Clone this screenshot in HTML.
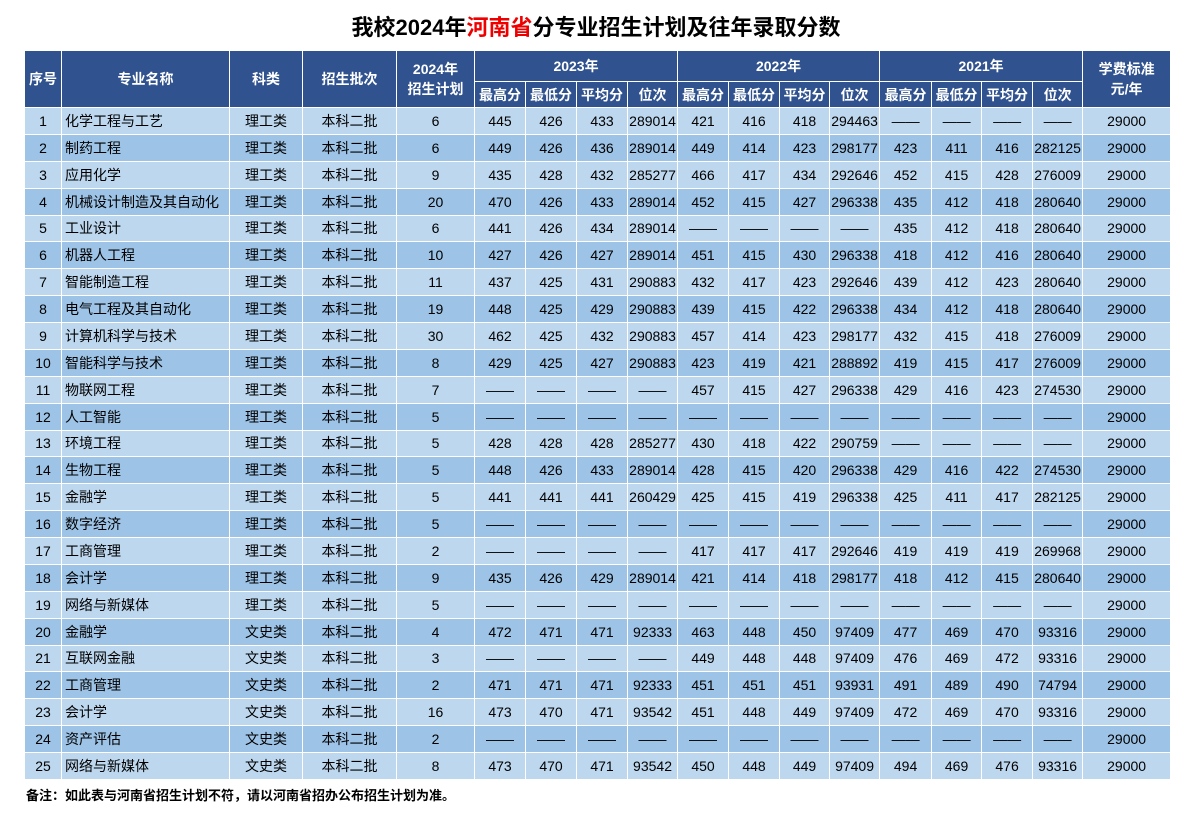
<!DOCTYPE html>
<html><head><meta charset="utf-8"><style>
body{margin:0;width:1192px;height:817px;background:#fff;position:relative;font-family:"Liberation Sans","Noto Sans CJK SC",sans-serif;}
.t{position:absolute;top:12px;left:0;width:1192px;text-align:center;font-size:22px;font-weight:bold;color:#000;line-height:32px}
.t span{color:#e00}
table{position:absolute;left:24px;top:50px;width:1146px;border-collapse:collapse;table-layout:fixed;font-size:14px;color:#000}
td,th{border:1px solid #fff;text-align:center;padding:0;white-space:nowrap;overflow:hidden}
th{background:#30528f;color:#fff;font-weight:bold;font-size:14px;line-height:16px}
th.tw{line-height:20px}
tr.h1 th{height:30px}
tr.h2 th{height:25px}
tbody tr{height:26.88px}
tbody tr:nth-child(odd) td{background:#bdd7ee}
tbody tr:nth-child(even) td{background:#9dc3e6}
td.n{text-align:left;padding-left:3px}
.f{position:absolute;left:26px;top:785px;font-size:13px;font-weight:bold}
</style></head><body>
<div class="t">我校2024年<span>河南省</span>分专业招生计划及往年录取分数</div>
<table>
<colgroup><col style="width:37px"><col style="width:168px"><col style="width:73px"><col style="width:94px"><col style="width:78px"><col style="width:51px"><col style="width:51px"><col style="width:51px"><col style="width:50px"><col style="width:51px"><col style="width:51px"><col style="width:50px"><col style="width:50px"><col style="width:52px"><col style="width:50px"><col style="width:51px"><col style="width:50px"><col style="width:88px"></colgroup>
<thead>
<tr class="h1"><th rowspan="2">序号</th><th rowspan="2">专业名称</th><th rowspan="2">科类</th><th rowspan="2">招生批次</th><th rowspan="2" class="tw">2024年<br>招生计划</th><th colspan="4">2023年</th><th colspan="4">2022年</th><th colspan="4">2021年</th><th rowspan="2" class="tw">学费标准<br>元/年</th></tr>
<tr class="h2"><th>最高分</th><th>最低分</th><th>平均分</th><th>位次</th><th>最高分</th><th>最低分</th><th>平均分</th><th>位次</th><th>最高分</th><th>最低分</th><th>平均分</th><th>位次</th></tr>
</thead>
<tbody>
<tr><td>1</td><td class="n">化学工程与工艺</td><td>理工类</td><td>本科二批</td><td>6</td><td>445</td><td>426</td><td>433</td><td>289014</td><td>421</td><td>416</td><td>418</td><td>294463</td><td>——</td><td>——</td><td>——</td><td>——</td><td>29000</td></tr>
<tr><td>2</td><td class="n">制药工程</td><td>理工类</td><td>本科二批</td><td>6</td><td>449</td><td>426</td><td>436</td><td>289014</td><td>449</td><td>414</td><td>423</td><td>298177</td><td>423</td><td>411</td><td>416</td><td>282125</td><td>29000</td></tr>
<tr><td>3</td><td class="n">应用化学</td><td>理工类</td><td>本科二批</td><td>9</td><td>435</td><td>428</td><td>432</td><td>285277</td><td>466</td><td>417</td><td>434</td><td>292646</td><td>452</td><td>415</td><td>428</td><td>276009</td><td>29000</td></tr>
<tr><td>4</td><td class="n">机械设计制造及其自动化</td><td>理工类</td><td>本科二批</td><td>20</td><td>470</td><td>426</td><td>433</td><td>289014</td><td>452</td><td>415</td><td>427</td><td>296338</td><td>435</td><td>412</td><td>418</td><td>280640</td><td>29000</td></tr>
<tr><td>5</td><td class="n">工业设计</td><td>理工类</td><td>本科二批</td><td>6</td><td>441</td><td>426</td><td>434</td><td>289014</td><td>——</td><td>——</td><td>——</td><td>——</td><td>435</td><td>412</td><td>418</td><td>280640</td><td>29000</td></tr>
<tr><td>6</td><td class="n">机器人工程</td><td>理工类</td><td>本科二批</td><td>10</td><td>427</td><td>426</td><td>427</td><td>289014</td><td>451</td><td>415</td><td>430</td><td>296338</td><td>418</td><td>412</td><td>416</td><td>280640</td><td>29000</td></tr>
<tr><td>7</td><td class="n">智能制造工程</td><td>理工类</td><td>本科二批</td><td>11</td><td>437</td><td>425</td><td>431</td><td>290883</td><td>432</td><td>417</td><td>423</td><td>292646</td><td>439</td><td>412</td><td>423</td><td>280640</td><td>29000</td></tr>
<tr><td>8</td><td class="n">电气工程及其自动化</td><td>理工类</td><td>本科二批</td><td>19</td><td>448</td><td>425</td><td>429</td><td>290883</td><td>439</td><td>415</td><td>422</td><td>296338</td><td>434</td><td>412</td><td>418</td><td>280640</td><td>29000</td></tr>
<tr><td>9</td><td class="n">计算机科学与技术</td><td>理工类</td><td>本科二批</td><td>30</td><td>462</td><td>425</td><td>432</td><td>290883</td><td>457</td><td>414</td><td>423</td><td>298177</td><td>432</td><td>415</td><td>418</td><td>276009</td><td>29000</td></tr>
<tr><td>10</td><td class="n">智能科学与技术</td><td>理工类</td><td>本科二批</td><td>8</td><td>429</td><td>425</td><td>427</td><td>290883</td><td>423</td><td>419</td><td>421</td><td>288892</td><td>419</td><td>415</td><td>417</td><td>276009</td><td>29000</td></tr>
<tr><td>11</td><td class="n">物联网工程</td><td>理工类</td><td>本科二批</td><td>7</td><td>——</td><td>——</td><td>——</td><td>——</td><td>457</td><td>415</td><td>427</td><td>296338</td><td>429</td><td>416</td><td>423</td><td>274530</td><td>29000</td></tr>
<tr><td>12</td><td class="n">人工智能</td><td>理工类</td><td>本科二批</td><td>5</td><td>——</td><td>——</td><td>——</td><td>——</td><td>——</td><td>——</td><td>——</td><td>——</td><td>——</td><td>——</td><td>——</td><td>——</td><td>29000</td></tr>
<tr><td>13</td><td class="n">环境工程</td><td>理工类</td><td>本科二批</td><td>5</td><td>428</td><td>428</td><td>428</td><td>285277</td><td>430</td><td>418</td><td>422</td><td>290759</td><td>——</td><td>——</td><td>——</td><td>——</td><td>29000</td></tr>
<tr><td>14</td><td class="n">生物工程</td><td>理工类</td><td>本科二批</td><td>5</td><td>448</td><td>426</td><td>433</td><td>289014</td><td>428</td><td>415</td><td>420</td><td>296338</td><td>429</td><td>416</td><td>422</td><td>274530</td><td>29000</td></tr>
<tr><td>15</td><td class="n">金融学</td><td>理工类</td><td>本科二批</td><td>5</td><td>441</td><td>441</td><td>441</td><td>260429</td><td>425</td><td>415</td><td>419</td><td>296338</td><td>425</td><td>411</td><td>417</td><td>282125</td><td>29000</td></tr>
<tr><td>16</td><td class="n">数字经济</td><td>理工类</td><td>本科二批</td><td>5</td><td>——</td><td>——</td><td>——</td><td>——</td><td>——</td><td>——</td><td>——</td><td>——</td><td>——</td><td>——</td><td>——</td><td>——</td><td>29000</td></tr>
<tr><td>17</td><td class="n">工商管理</td><td>理工类</td><td>本科二批</td><td>2</td><td>——</td><td>——</td><td>——</td><td>——</td><td>417</td><td>417</td><td>417</td><td>292646</td><td>419</td><td>419</td><td>419</td><td>269968</td><td>29000</td></tr>
<tr><td>18</td><td class="n">会计学</td><td>理工类</td><td>本科二批</td><td>9</td><td>435</td><td>426</td><td>429</td><td>289014</td><td>421</td><td>414</td><td>418</td><td>298177</td><td>418</td><td>412</td><td>415</td><td>280640</td><td>29000</td></tr>
<tr><td>19</td><td class="n">网络与新媒体</td><td>理工类</td><td>本科二批</td><td>5</td><td>——</td><td>——</td><td>——</td><td>——</td><td>——</td><td>——</td><td>——</td><td>——</td><td>——</td><td>——</td><td>——</td><td>——</td><td>29000</td></tr>
<tr><td>20</td><td class="n">金融学</td><td>文史类</td><td>本科二批</td><td>4</td><td>472</td><td>471</td><td>471</td><td>92333</td><td>463</td><td>448</td><td>450</td><td>97409</td><td>477</td><td>469</td><td>470</td><td>93316</td><td>29000</td></tr>
<tr><td>21</td><td class="n">互联网金融</td><td>文史类</td><td>本科二批</td><td>3</td><td>——</td><td>——</td><td>——</td><td>——</td><td>449</td><td>448</td><td>448</td><td>97409</td><td>476</td><td>469</td><td>472</td><td>93316</td><td>29000</td></tr>
<tr><td>22</td><td class="n">工商管理</td><td>文史类</td><td>本科二批</td><td>2</td><td>471</td><td>471</td><td>471</td><td>92333</td><td>451</td><td>451</td><td>451</td><td>93931</td><td>491</td><td>489</td><td>490</td><td>74794</td><td>29000</td></tr>
<tr><td>23</td><td class="n">会计学</td><td>文史类</td><td>本科二批</td><td>16</td><td>473</td><td>470</td><td>471</td><td>93542</td><td>451</td><td>448</td><td>449</td><td>97409</td><td>472</td><td>469</td><td>470</td><td>93316</td><td>29000</td></tr>
<tr><td>24</td><td class="n">资产评估</td><td>文史类</td><td>本科二批</td><td>2</td><td>——</td><td>——</td><td>——</td><td>——</td><td>——</td><td>——</td><td>——</td><td>——</td><td>——</td><td>——</td><td>——</td><td>——</td><td>29000</td></tr>
<tr><td>25</td><td class="n">网络与新媒体</td><td>文史类</td><td>本科二批</td><td>8</td><td>473</td><td>470</td><td>471</td><td>93542</td><td>450</td><td>448</td><td>449</td><td>97409</td><td>494</td><td>469</td><td>476</td><td>93316</td><td>29000</td></tr>
</tbody>
</table>
<div class="f">备注：如此表与河南省招生计划不符，请以河南省招办公布招生计划为准。</div>
</body></html>
